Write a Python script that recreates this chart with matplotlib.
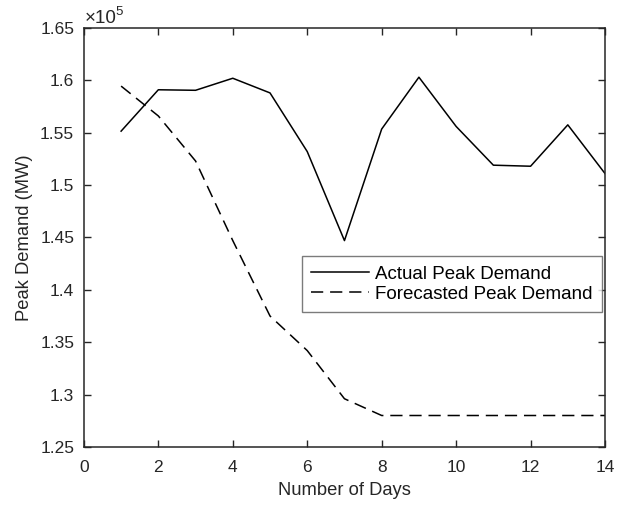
import matplotlib
matplotlib.use("Agg")
import matplotlib.pyplot as plt
from matplotlib.ticker import FuncFormatter

days = [1, 2, 3, 4, 5, 6, 7, 8, 9, 10, 11, 12, 13, 14]
actual = [155150, 159100, 159050, 160200, 158800, 153200, 144700, 155350,
          160300, 155600, 151900, 151800, 155750, 151100]
forecast = [159450, 156600, 152300, 144700, 137500, 134200, 129600, 128000,
            128000, 128000, 128000, 128000, 128000, 128000]
xticks = [0, 2, 4, 6, 8, 10, 12, 14]
yticks = [1.25, 1.3, 1.35, 1.4, 1.45, 1.5, 1.55, 1.6, 1.65]
scale = 1e5

plt.rcParams['font.family'] = ['Liberation Sans', 'DejaVu Sans']
fig = plt.figure(figsize=(6.26, 5.05), dpi=100)
ax = fig.add_axes([0.134, 0.115, 0.8325, 0.8296])

ax.plot(days, [v / scale for v in actual], color='black', lw=1.1,
        label='Actual Peak Demand')
ax.plot(days, [v / scale for v in forecast], color='black', lw=1.1,
        linestyle=(0, (8, 4.5)), label='Forecasted Peak Demand')

ax.set_xlim(0, 14)
ax.set_ylim(1.25, 1.65)
ax.set_xticks(xticks)
ax.set_yticks(yticks)
ax.yaxis.set_major_formatter(FuncFormatter(lambda v, p: '%g' % round(v, 3)))

dark = '#262626'
for s in ax.spines.values():
    s.set_color(dark)
    s.set_linewidth(1.1)
ax.tick_params(direction='in', length=5, width=1.0, colors=dark,
               labelsize=12.5, top=True, right=True, pad=7)
ax.tick_params(axis='x', pad=9.5)
for lbl in ax.get_xticklabels() + ax.get_yticklabels():
    lbl.set_color(dark)

ax.set_xlabel('Number of Days', fontsize=13.2, color=dark, labelpad=5)
ax.set_ylabel('Peak Demand (MW)', fontsize=13.2, color=dark, labelpad=5)

ax.annotate('\u00d710', xy=(0, 1), xycoords='axes fraction',
            xytext=(1, 5), textcoords='offset pixels', fontsize=13.5,
            color=dark, ha='left', va='baseline')
ax.annotate('5', xy=(0, 1), xycoords='axes fraction',
            xytext=(31.5, 13), textcoords='offset pixels', fontsize=9.5,
            color=dark, ha='left', va='baseline')

leg = ax.legend(loc='upper left', bbox_to_anchor=(0.418, 0.455), fontsize=13.5,
                frameon=True, fancybox=False, handlelength=3.1, handletextpad=0.3,
                borderpad=0.5, labelspacing=0.15, borderaxespad=0)
leg.get_frame().set_edgecolor('#5a5a5a')
leg.get_frame().set_linewidth(1.0)

fig.savefig('out.png', dpi=100)
